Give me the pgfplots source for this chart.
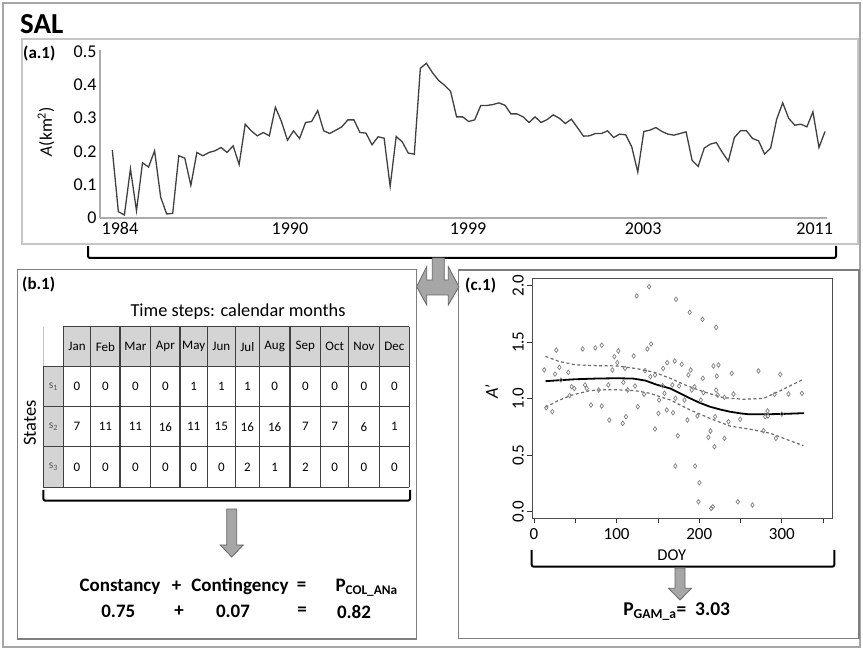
\documentclass[border=0pt]{standalone}
\usepackage{pgfplots}
\pgfplotsset{compat=1.18}
\usepackage{fontspec}
\setmainfont{Carlito}
\newcommand{\fs}[1]{\fontsize{#1}{#1}\selectfont}
\definecolor{boxgray}{HTML}{7F7F7F}
\definecolor{cellgray}{HTML}{D4D4D4}
\definecolor{arrowfill}{HTML}{A6A6A6}

% Monthly water area of the SAL wetland (km^2), one value per scene
\pgfplotstableread{
i A
1 0.204
2 0.019
3 0.009
4 0.148
5 0.022
6 0.166
7 0.153
8 0.202
9 0.063
10 0.012
11 0.014
12 0.187
13 0.180
14 0.098
15 0.197
16 0.187
17 0.197
18 0.202
19 0.212
20 0.197
21 0.217
22 0.161
23 0.282
24 0.262
25 0.247
26 0.257
27 0.247
28 0.333
29 0.290
30 0.234
31 0.262
32 0.239
33 0.287
34 0.290
35 0.323
36 0.262
37 0.254
38 0.264
39 0.274
40 0.295
41 0.295
42 0.257
43 0.255
44 0.220
45 0.244
46 0.240
47 0.095
48 0.245
49 0.229
50 0.195
51 0.192
52 0.450
53 0.465
54 0.437
55 0.414
56 0.399
57 0.381
58 0.304
59 0.304
60 0.290
61 0.295
62 0.338
63 0.338
64 0.341
65 0.346
66 0.339
67 0.313
68 0.313
69 0.304
70 0.287
71 0.304
72 0.287
73 0.296
74 0.310
75 0.300
76 0.284
77 0.297
78 0.272
79 0.246
80 0.247
81 0.254
82 0.254
83 0.262
84 0.242
85 0.252
86 0.250
87 0.214
88 0.138
89 0.260
90 0.264
91 0.272
92 0.260
93 0.252
94 0.249
95 0.254
96 0.259
97 0.173
98 0.155
99 0.210
100 0.222
101 0.227
102 0.197
103 0.171
104 0.242
105 0.262
106 0.262
107 0.239
108 0.232
109 0.192
110 0.210
111 0.297
112 0.346
113 0.299
114 0.279
115 0.282
116 0.274
117 0.319
118 0.212
119 0.260
}\areadata

% Standardised area A' against day of year
\pgfplotstableread{
doy a
12.5 1.254
14.9 0.920
22.2 0.885
27.0 1.430
25.4 1.218
30.7 1.277
32.7 1.165
41.6 1.233
43.2 1.027
45.6 1.106
48.8 1.090
58.9 1.440
61.8 1.121
63.8 1.092
69.0 0.944
74.3 1.449
78.3 1.077
82.0 1.473
82.0 0.935
90.0 1.121
91.2 0.811
94.9 1.254
97.3 1.372
100.9 1.319
102.1 1.422
107.4 0.782
108.2 1.145
110.2 1.268
111.4 0.841
113.4 1.077
120.7 1.378
122.3 1.112
124.3 1.909
125.6 0.929
133.2 1.038
134.4 1.248
137.3 1.440
139.3 1.991
141.7 1.484
140.9 1.195
146.5 1.210
146.5 0.732
150.6 0.870
151.4 0.988
155.8 1.115
157.9 1.048
156.3 1.268
161.2 1.319
160.7 0.900
168.3 0.876
167.5 1.121
170.3 1.333
171.1 0.404
171.1 1.003
171.9 1.879
174.0 0.673
175.6 1.112
178.8 1.304
182.1 0.988
185.7 0.811
186.9 1.210
188.5 1.764
189.7 1.254
190.9 1.077
194.2 1.106
195.0 0.404
197.8 0.847
199.0 0.088
200.2 0.257
201.9 0.988
203.9 1.702
204.3 1.180
205.1 1.053
211.1 0.658
213.6 0.714
214.4 0.029
216.4 0.044
217.2 1.289
218.4 0.575
219.2 0.841
220.4 1.631
221.2 1.200
220.4 1.077
223.3 1.298
222.4 1.032
230.5 0.649
230.5 1.012
235.4 0.796
239.4 1.224
241.5 1.041
246.7 0.088
249.5 0.817
264.4 0.059
271.7 1.245
277.8 0.717
279.8 0.841
282.6 0.891
283.0 0.847
292.7 0.649
291.1 1.038
297.9 1.215
300.0 0.864
308.0 1.041
324.2 1.047
}\scatterdata

% GAM fit and its confidence band
\pgfplotstableread{
doy fit
14 1.155
30 1.163
50 1.172
75 1.178
100 1.181
120 1.178
135 1.160
148 1.125
165 1.090
177 1.047
189 1.003
200 0.965
213 0.929
225 0.905
237 0.885
250 0.870
260 0.862
280 0.862
300 0.865
327 0.872
}\gamfit
\pgfplotstableread{
doy up
14 1.375
30 1.330
50 1.300
75 1.292
100 1.290
125 1.265
145 1.235
165 1.180
185 1.115
205 1.062
229 1.009
253 0.995
278 1.003
298 1.070
326 1.172
}\gamup
\pgfplotstableread{
doy lo
14 0.925
30 0.985
45 1.030
68 1.072
90 1.080
110 1.077
125 1.068
140 1.048
165 0.988
189 0.900
213 0.826
237 0.758
262 0.729
286 0.694
326 0.584
}\gamlo

\begin{document}
\begin{tikzpicture}[x=1pt,y=1pt]
\path[use as bounding box] (0,0) rectangle (863,650);
\fill[white] (0,0) rectangle (863,650);

% outer frame and title
\draw[gray!70, line width=1.5pt] (3,3) rectangle (860,647);
\node[anchor=west, inner sep=0pt] at (20,626) {\fs{29}\bfseries SAL};

% ---------- panel a.1 ----------
\draw[gray!45, line width=1.6pt] (21.7,406) rectangle (858,610.7);
\node[anchor=west, inner sep=0pt] at (23,597) {\fs{17}\bfseries (a.1)};
\node[rotate=90] at (46,518.3) {\fs{17.5}\textit{A}(km\textsuperscript{2})};

\begin{axis}[
  at={(100pt,432pt)}, anchor=south west,
  scale only axis, width=727pt, height=168pt,
  xmin=-1.04, xmax=119.33, ymin=0, ymax=0.505,
  axis x line=bottom, axis y line=left,
  axis line style={-, gray!65, line width=1.5pt},
  xtick={2.27,30.4,59.9,88.9,117.3},
  xticklabels={1984,1990,1999,2003,2011},
  ytick={0,0.1,0.2,0.3,0.4,0.5},
  major tick length=0pt,
  /pgf/number format/assume math mode=true,
  yticklabel style={/pgf/number format/.cd, fixed, precision=1},
  ticklabel style={font=\fs{18}},
  xticklabel style={yshift=-1pt},
  clip=false,
]
\addplot[color=black!75, line width=1.3pt] table[x=i, y=A] {\areadata};
\end{axis}

% bracket under panel a.1 and T-shaped connector arrow
\draw[black, line width=2pt, rounded corners=2pt] (88,404) -- (88,392) -- (836,392) -- (836,404);
\filldraw[fill=arrowfill, draw=black!60, line width=0.8pt]
  (432.3,392) -- (432.3,370) -- (426.7,370) -- (426.7,383.3) -- (416.7,363.3)
  -- (426.7,345) -- (426.7,355) -- (448.3,355) -- (448.3,345) -- (459,363.3)
  -- (448.3,383.3) -- (448.3,370) -- (444.3,370) -- (444.3,392) -- cycle;

% ---------- panel b.1 ----------
\draw[boxgray, line width=1.5pt] (17.3,11) rectangle (416.7,380.7);
\node[anchor=west, inner sep=0pt] at (22,366) {\fs{17}\bfseries (b.1)};
\node at (238,338) {\fs{18.3}Time steps: calendar months};
\node[rotate=90] at (30,227) {\fs{18.5}States};

\fill[cellgray] (63.3,283.3) rectangle (409.3,323.3);
\fill[cellgray] (43.3,162.7) rectangle (63.3,283.3);
\draw[gray!45, line width=0.8pt] (43.3,283.3) -- (43.3,323.3);
\begin{scope}[black!75, line width=1.2pt]
  \draw (63.3,323.3) -- (409.3,323.3);
  \foreach \yy in {283.3,243.3,203.3,162.7} \draw (43.3,\yy) -- (409.3,\yy);
  \draw (43.3,162.7) -- (43.3,283.3);
  \foreach \xx in {63.3,90.7,120,150.7,180,207.3,235.3,259.3,290,320.7,348.7,379.3,409.3}
    \draw (\xx,162.7) -- (\xx,323.3);
\end{scope}
\foreach \xc/\m/\a/\b/\c in {
  77/Jan/0/7/0, 105.35/Feb/0/11/0, 135.35/Mar/0/11/0, 165.35/Apr/0/16/0,
  193.65/May/1/11/0, 221.3/Jun/1/15/0, 247.3/Jul/1/16/2, 274.65/Aug/0/16/1,
  305.35/Sep/0/7/2, 334.7/Oct/0/7/0, 364/Nov/0/6/0, 394.3/Dec/0/1/0}{
  \node at (\xc,303.3) {\fs{13}\m};
  \node at (\xc,263.3) {\fs{13}\a};
  \node at (\xc,223.3) {\fs{13}\b};
  \node at (\xc,183) {\fs{13}\c};
}
\node[text=black!65] at (53.3,263.3) {\fs{11.5}s\textsubscript{1}};
\node[text=black!65] at (53.3,223.3) {\fs{11.5}s\textsubscript{2}};
\node[text=black!65] at (53.3,183) {\fs{11.5}s\textsubscript{3}};

\draw[black, line width=2pt, rounded corners=2pt] (43.3,160) -- (43.3,149.3) -- (410,149.3) -- (410,160);
\filldraw[fill=arrowfill, draw=black!60, line width=0.8pt]
  (226.7,141) -- (226.7,105) -- (220.2,105) -- (231.7,93) -- (243.2,105) -- (236.7,105) -- (236.7,141) -- cycle;

\begin{scope}[font=\fs{19}\bfseries]
  \node at (120,63.3) {Constancy};
  \node at (176.7,63.3) {+};
  \node at (240,63.3) {Contingency};
  \node at (301.7,63.3) {=};
  \node[anchor=west] at (332,62) {P\textsubscript{COL\_ANa}};
  \node at (118.3,38.3) {0.75};
  \node at (179,38.3) {+};
  \node at (233,38.3) {0.07};
  \node at (302,38.3) {=};
  \node at (354,38.3) {0.82};
\end{scope}

% ---------- panel c.1 ----------
\draw[boxgray, line width=1.5pt] (458.3,11.7) rectangle (859,380);
\node[anchor=west, inner sep=0pt] at (465,365) {\fs{17}\bfseries (c.1)};
\node[rotate=90] at (491.7,258.3) {\fs{18}\textit{A’}};
\node at (671.7,95) {\fs{16.5}DOY};

\begin{axis}[
  at={(532.3pt,131.7pt)}, anchor=south west,
  scale only axis, width=300pt, height=240pt,
  xmin=-2, xmax=361, ymin=-0.058, ymax=2.065,
  xtick={0,50,100,150,200,250,300,350},
  xticklabels={0,,100,,200,,300,},
  ytick={0,0.5,1,1.5,2},
  tick align=outside, xtick pos=bottom, ytick pos=left,
  major tick length=5pt,
  axis line style={black!70, line width=1pt},
  tick style={black!80, line width=0.8pt},
  /pgf/number format/assume math mode=true,
  ticklabel style={font=\fs{17}},
  yticklabel style={rotate=90, anchor=south, /pgf/number format/.cd, fixed, fixed zerofill, precision=1},
  xticklabel style={yshift=-2pt},
]
\addplot[only marks, mark=diamond, mark size=2.3pt, gray, mark options={line width=0.7pt}]
  table[x=doy, y=a] {\scatterdata};
\addplot[gray!85!black, line width=1.2pt, dash pattern=on 3pt off 2.5pt] table[x=doy, y=up] {\gamup};
\addplot[gray!85!black, line width=1.2pt, dash pattern=on 3pt off 2.5pt] table[x=doy, y=lo] {\gamlo};
\addplot[black, line width=1.8pt] table[x=doy, y=fit] {\gamfit};
\end{axis}

\draw[black, line width=2pt, rounded corners=2pt] (531.7,100) -- (531.7,83.3) -- (834.3,83.3) -- (834.3,100);
\filldraw[fill=arrowfill, draw=black!60, line width=0.8pt]
  (675,82) -- (675,61.7) -- (668.5,61.7) -- (680,50) -- (691.5,61.7) -- (685,61.7) -- (685,82) -- cycle;
\node at (676.7,38.3) {\fs{19.5}\bfseries P\textsubscript{GAM\_a}=\ \ 3.03};
\end{tikzpicture}
\end{document}
